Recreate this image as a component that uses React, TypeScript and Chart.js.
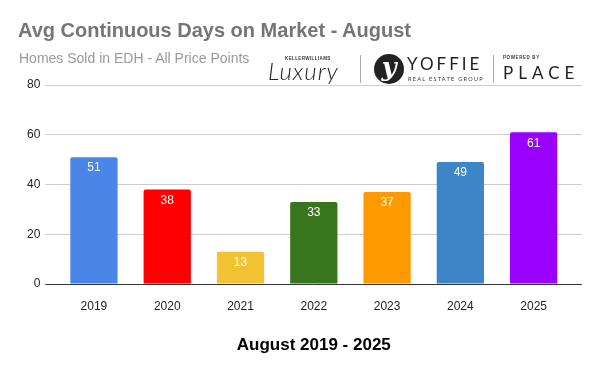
import React, { useEffect, useRef } from "react";
import { Chart, registerables } from "chart.js";

Chart.register(...registerables);

const categories = ["2019", "2020", "2021", "2022", "2023", "2024", "2025"];
const values = [51, 38, 13, 33, 37, 49, 61];
const barColors = ["#4a86e8", "#ff0000", "#f1c232", "#38761d", "#ff9900", "#3d85c6", "#9900ff"];
const yTicks = [0, 20, 40, 60, 80];
const titleText = "Avg Continuous Days on Market - August";
const subtitleText = "Homes Sold in EDH - All Price Points";
const axisTitle = "August 2019 - 2025";

const FONT = "Arial, 'Liberation Sans', sans-serif";

const gridColor = (ctx: any) => (ctx.tick && ctx.tick.value === 0 ? "#333333" : "#cccccc");

const valueLabels = {
  id: "valueLabels",
  afterDatasetsDraw(chart: any) {
    const ctx = chart.ctx;
    const meta = chart.getDatasetMeta(0);
    ctx.save();
    ctx.fillStyle = "#ffffff";
    ctx.font = `12px ${FONT}`;
    ctx.textAlign = "center";
    ctx.textBaseline = "middle";
    meta.data.forEach((el: any, i: number) => {
      ctx.fillText(String(values[i]), el.x, el.y + 11);
    });
    ctx.restore();
  },
};

export default function App() {
  const ref = useRef<HTMLCanvasElement | null>(null);
  useEffect(() => {
    if (!ref.current) return;
    const chart = new Chart(ref.current, {
      type: "bar",
      data: {
        labels: categories,
        datasets: [
          {
            data: values,
            backgroundColor: barColors,
            barPercentage: 0.645,
            categoryPercentage: 1,
            borderRadius: { topLeft: 2, topRight: 2, bottomLeft: 0, bottomRight: 0 },
            borderSkipped: false,
            yAxisID: "y",
          },
        ],
      },
      options: {
        animation: false,
        responsive: false,
        maintainAspectRatio: false,
        layout: { padding: { top: 85, right: 0, left: 0, bottom: 0 } },
        plugins: { legend: { display: false }, tooltip: { enabled: false }, title: { display: false } },
        scales: {
          x: {
            grid: { display: false },
            border: { display: false },
            ticks: { color: "#222222", font: { family: FONT, size: 12 }, padding: 7 },
            title: {
              display: true,
              text: axisTitle,
              color: "#000000",
              font: { family: FONT, size: 17, weight: "bold" },
              padding: { top: 0, bottom: 15 },
            },
            afterFit(scale: any) {
              scale.height = 87;
            },
          },
          y: {
            position: "left",
            min: 0,
            max: 80,
            afterBuildTicks(scale: any) {
              scale.ticks = yTicks.map((v) => ({ value: v }));
            },
            grid: { color: gridColor, drawTicks: true, tickLength: 12 },
            border: { display: false },
            ticks: { color: "#222222", font: { family: FONT, size: 12 }, padding: 5 },
            afterFit(scale: any) {
              scale.width = 57.3;
            },
          },
          y2: {
            position: "right",
            min: 0,
            max: 80,
            afterBuildTicks(scale: any) {
              scale.ticks = yTicks.map((v) => ({ value: v }));
            },
            grid: { color: gridColor, drawOnChartArea: false, drawTicks: true, tickLength: 11.5 },
            border: { display: false },
            ticks: { display: false },
            afterFit(scale: any) {
              scale.width = 29.7;
            },
          },
        },
      },
      plugins: [valueLabels],
    } as any);
    return () => chart.destroy();
  }, []);

  return (
    <div style={{ position: "fixed", left: 0, top: 0, width: 600, height: 371, background: "#fff", overflow: "hidden", fontFamily: FONT }}>
      <canvas ref={ref} width={600} height={371} style={{ position: "absolute", left: 0, top: 0, width: 600, height: 371 }} />
      <div style={{ position: "absolute", left: 18, top: 19.2, fontSize: 20, fontWeight: "bold", color: "#757575", whiteSpace: "nowrap" }}>
        {titleText}
      </div>
      <div style={{ position: "absolute", left: 19, top: 49.6, fontSize: 14, color: "#999999", whiteSpace: "nowrap" }}>
        {subtitleText}
      </div>
      {/* logo */}
      <div style={{ position: "absolute", left: 285, top: 56, fontSize: 4.5, letterSpacing: 0.4, color: "#333", fontWeight: "bold", whiteSpace: "nowrap" }}>KELLERWILLIAMS</div>
      <div style={{ position: "absolute", left: 268, top: 56, fontSize: 24, fontStyle: "italic", fontWeight: 300, fontFamily: "Lato, sans-serif", color: "#222", letterSpacing: 1, whiteSpace: "nowrap" }}>Luxury</div>
      <div style={{ position: "absolute", left: 360, top: 55, width: 1, height: 28, background: "#aaa" }} />
      <div style={{ position: "absolute", left: 374, top: 54, width: 30, height: 30, borderRadius: 15, background: "#222", color: "#fff", fontSize: 26, fontWeight: "bold", fontStyle: "italic", textAlign: "center", lineHeight: "26px", fontFamily: "'DejaVu Serif', serif" }}>y</div>
      <div style={{ position: "absolute", left: 407, top: 53, fontSize: 17, color: "#222", letterSpacing: 3, fontFamily: "Lato, sans-serif", whiteSpace: "nowrap" }}>YOFFIE</div>
      <div style={{ position: "absolute", left: 408, top: 76, fontSize: 5.5, color: "#333", letterSpacing: 1.3, fontFamily: "Lato, sans-serif", whiteSpace: "nowrap" }}>REAL ESTATE GROUP</div>
      <div style={{ position: "absolute", left: 493, top: 55, width: 1, height: 28, background: "#aaa" }} />
      <div style={{ position: "absolute", left: 503, top: 55, fontSize: 4.5, color: "#333", fontWeight: "bold", letterSpacing: 0.6, whiteSpace: "nowrap" }}>POWERED BY</div>
      <div style={{ position: "absolute", left: 503, top: 62, fontSize: 17, color: "#222", letterSpacing: 5, fontFamily: "Lato, sans-serif", whiteSpace: "nowrap" }}>PLACE</div>
    </div>
  );
}
